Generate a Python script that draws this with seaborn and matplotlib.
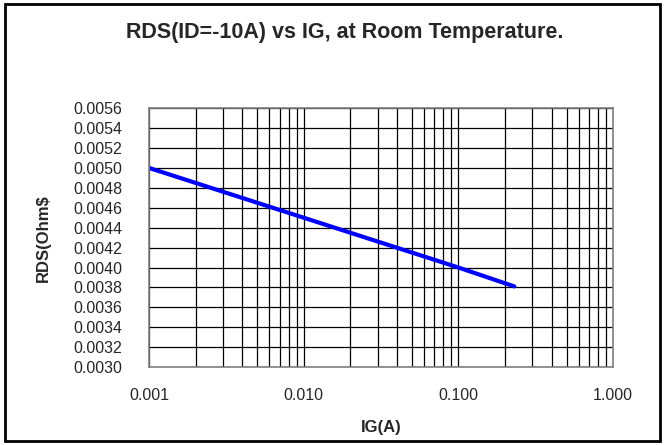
import numpy as np
import pandas as pd
import seaborn as sns
import matplotlib.pyplot as plt
from matplotlib.patches import Rectangle
from matplotlib.ticker import FixedLocator, FuncFormatter, LogLocator, MultipleLocator

# datos
ig_a = [0.001, 0.01, 0.1, 0.23]
rds_ohm = [0.00500, 0.00450, 0.00400, 0.00381]
x_ticks = [0.001, 0.01, 0.1, 1.0]
x_labels = ["0.001", "0.010", "0.100", "1.000"]

df = pd.DataFrame({"IG(A)": ig_a, "RDS": rds_ohm})

sns.set_style("white")
plt.rcParams["font.family"] = ["Liberation Sans", "DejaVu Sans"]

fig = plt.figure(figsize=(6.65, 4.45), dpi=100)
ax = fig.add_axes([0.224, 0.175, 0.698, 0.582])

sns.lineplot(data=df, x="IG(A)", y="RDS", color="#0000ff", linewidth=3, ax=ax)

ax.set_xscale("log")
ax.set_xlim(0.001, 1.0)
ax.set_ylim(0.0030, 0.0056)
ax.xaxis.set_major_locator(FixedLocator(x_ticks))
ax.xaxis.set_major_formatter(FuncFormatter(lambda v, p: x_labels[x_ticks.index(v)] if v in x_ticks else ""))
ax.xaxis.set_minor_locator(LogLocator(base=10, subs=np.arange(2, 10)))
ax.xaxis.set_minor_formatter(FuncFormatter(lambda v, p: ""))
ax.yaxis.set_major_locator(MultipleLocator(0.0002))
ax.yaxis.set_major_formatter(FuncFormatter(lambda v, p: f"{v:.4f}"))

ax.grid(which="major", axis="both", color="black", linewidth=0.9)
ax.grid(which="minor", axis="x", color="black", linewidth=0.9)
ax.set_axisbelow(True)
for s in ax.spines.values():
    s.set_color("#808080")
    s.set_linewidth(1.2)

ax.tick_params(axis="both", which="major", direction="out", length=5, width=1,
               color="#555555", labelsize=11.5)
ax.tick_params(axis="y", pad=14)
ax.tick_params(axis="x", pad=10)
ax.tick_params(axis="x", which="minor", length=0)

fig.text(0.519, 0.928, "RDS(ID=-10A) vs IG, at Room Temperature.", fontsize=15.5,
         fontweight="bold", ha="center", va="center")
ax.set_xlabel("IG(A)", fontsize=12, fontweight="bold", labelpad=12)
ax.set_ylabel(r"RDS(Ohm\$", fontsize=12, fontweight="bold", labelpad=16)

fig.patches.append(Rectangle((0.008, 0.009), 0.984, 0.982, transform=fig.transFigure,
                             fill=False, edgecolor="black", linewidth=2))

fig.savefig("out.png", dpi=100)
